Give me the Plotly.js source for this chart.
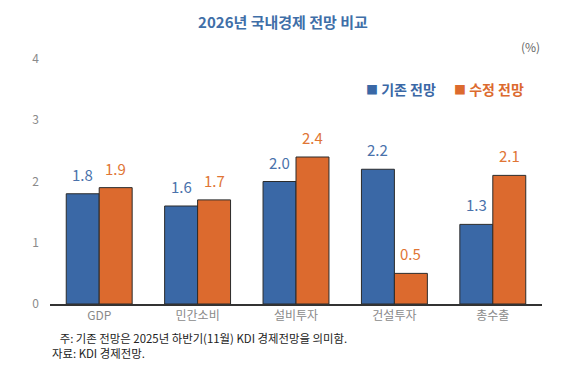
<!DOCTYPE html>
<html>
<head>
<meta charset="utf-8">
<script src="https://cdn.plot.ly/plotly-3.0.1.min.js"></script>
<style>html,body{margin:0;padding:0;background:#fff;}#chart{width:566px;height:378px;}</style>
</head>
<body>
<div id="chart"></div>
<script>
var categories = ['GDP', '민간소비', '설비투자', '건설투자', '총수출'];
var baseline = [1.8, 1.6, 2.0, 2.2, 1.3];
var revised = [1.9, 1.7, 2.4, 0.5, 2.1];
var seriesNames = ['기존 전망', '수정 전망'];
var yTicks = [0, 1, 2, 3, 4];

var FONT = '"Noto Sans CJK KR", "Noto Sans", sans-serif';
var BLUE = '#3a68a6', ORANGE = '#dc6a2e';
var BLUE_T = '#4a72ab', ORANGE_T = '#e07535';

var W = 566, H = 378, ML = 50, MR = 24, MT = 59, MB = 74, BARGAP = 0.33;
var halfBar = ((W - ML - MR) / categories.length) * (1 - BARGAP) / 4;

function labels(vals, sign, color){
  return vals.map(function(v, i){
    return {xref:'x', yref:'y', x:categories[i], y:v, xshift:sign*halfBar, yshift:7,
            xanchor:'center', yanchor:'bottom', showarrow:false, text:v.toFixed(1),
            font:{family:FONT, size:15, color:color}};
  });
}

var traces = [
  {type:'bar', name:seriesNames[0], x:categories, y:baseline,
   marker:{color:BLUE, line:{color:'#2b2b2b', width:1}}},
  {type:'bar', name:seriesNames[1], x:categories, y:revised,
   marker:{color:ORANGE, line:{color:'#2b2b2b', width:1}}}
];

var annotations = [
  {xref:'paper', yref:'paper', x:1.0, y:1.053, xanchor:'right', yanchor:'middle', showarrow:false,
   text:'(%)', font:{family:FONT, size:12, color:'#666'}},
  {xref:'paper', yref:'paper', x:0.638, y:0.877, xanchor:'left', yanchor:'middle', showarrow:false,
   text:'<span style="font-size:12px">■</span> <b>'+seriesNames[0]+'</b>', font:{family:FONT, size:14, color:BLUE}},
  {xref:'paper', yref:'paper', x:0.817, y:0.877, xanchor:'left', yanchor:'middle', showarrow:false,
   text:'<span style="font-size:12px">■</span> <b>'+seriesNames[1]+'</b>', font:{family:FONT, size:14, color:ORANGE}},
  {xref:'paper', yref:'paper', x:0.0, y:-0.17, xanchor:'left', yanchor:'middle', showarrow:false, align:'left',
   text:'&nbsp;&nbsp;&nbsp;주: 기존 전망은 2025년 하반기(11월) KDI 경제전망을 의미함.<br>자료: KDI 경제전망.',
   font:{family:FONT, size:11.4, color:'#222'}}
].concat(labels(baseline, -1, BLUE_T), labels(revised, 1, ORANGE_T));

var layout = {
  width:W, height:H,
  margin:{l:ML, r:MR, t:MT, b:MB},
  paper_bgcolor:'#fff', plot_bgcolor:'#fff',
  barmode:'group', bargap:BARGAP, bargroupgap:0,
  showlegend:false,
  font:{family:FONT},
  title:{text:'<b>2026년 국내경제 전망 비교</b>', x:0.5, xanchor:'center', y:0.94, yanchor:'middle',
         font:{family:FONT, size:15, color:'#3f6fa8'}},
  xaxis:{type:'category', showline:true, linecolor:'#333', linewidth:2, ticks:'',
         showgrid:false, zeroline:false,
         tickfont:{family:FONT, size:12, color:'#8a8a8a'}},
  yaxis:{range:[0,4], tickvals:yTicks, ticktext:yTicks.map(String), showgrid:false, zeroline:false,
         showline:false, ticks:'', ticklabelstandoff:10,
         tickfont:{family:FONT, size:12, color:'#8a8a8a'}},
  annotations:annotations
};

Plotly.newPlot('chart', traces, layout, {displayModeBar:false, staticPlot:true});
</script>
</body>
</html>
